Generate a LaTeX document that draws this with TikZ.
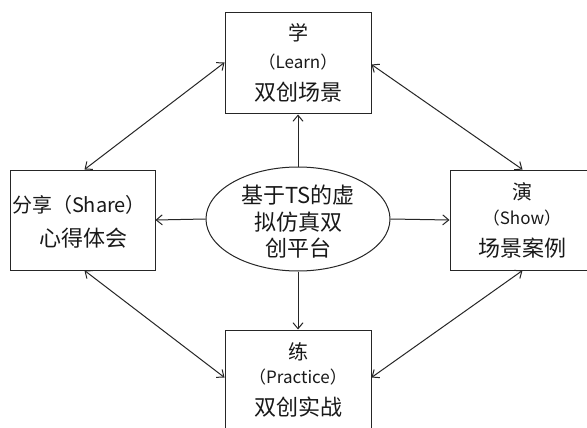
\documentclass[tikz,border=0pt]{standalone}
\usepackage{fontspec}
\setmainfont{Noto Sans CJK SC}
\usetikzlibrary{arrows.meta,shapes.geometric}
\tikzset{
  boxnode/.style={draw=black!85, line width=1pt, minimum width=146pt, minimum height=101pt, inner sep=0pt},
  lbl/.style={inner sep=0pt, anchor=center, text=black!90},
  big/.style={lbl, font=\fontsize{22}{24}\selectfont},
  mid/.style={lbl, font=\fontsize{20}{22}\selectfont},
  small/.style={lbl, font=\fontsize{17}{19}\selectfont},
  conn/.style={draw=black!85, line width=1pt, -{Straight Barb[length=6pt,width=10pt]}},
  dconn/.style={draw=black!85, line width=1pt, {Straight Barb[length=6pt,width=10pt]}-{Straight Barb[length=6pt,width=10pt]}}
}
\begin{document}
\begin{tikzpicture}[x=1pt,y=-1pt]
\useasboundingbox (0,0) rectangle (587,428);
\clip (0,0) rectangle (587,428);
\fill[white] (0,0) rectangle (587,428);
% boxes
\node[boxnode] (top) at (298,63.5) {};
\node[boxnode, minimum width=145pt, minimum height=100pt] (left) at (82.5,220) {};
\node[boxnode, minimum width=145pt, minimum height=100pt] (right) at (522.5,220) {};
\node[boxnode] (bottom) at (298,380.5) {};
\node[draw=black!85, line width=1pt, ellipse, minimum width=184pt, minimum height=104pt, inner sep=0pt] (e) at (298,219) {};
% texts
\node[mid] (t1) at (298,33) {学};
\node[small] (t2) at (298,62) {（Learn）};
\node[big] (t3) at (298,92) {双创场景};
\node[mid] (l1) at (79,205) {分享（Share）};
\node[big] (l2) at (83,238) {心得体会};
\node[mid] (r1) at (522,192) {演};
\node[small] (r2) at (522,218) {（Show）};
\node[big] (r3) at (522,248) {场景案例};
\node[mid] (b1) at (298,352) {练};
\node[small] (b2) at (298,377) {（Practice）};
\node[big] (b3) at (298,407) {双创实战};
\node[big] (e1) at (298,195) {基于TS的虚};
\node[big] (e2) at (298,222) {拟仿真双};
\node[big] (e3) at (298,248) {创平台};
% connectors from centre
\draw[conn] (e.north) -- (top.south);
\draw[conn] (e.west) -- (left.east);
\draw[conn] (e.east) -- (right.west);
\draw[conn] (e.south) -- (bottom.north);
% diagonal double arrows
\coordinate (tl) at ([yshift=-50pt]top.north west);
\coordinate (tr) at ([yshift=-52pt]top.north east);
\coordinate (bl) at ([yshift=-48pt]bottom.north west);
\coordinate (br) at ([yshift=-48pt]bottom.north east);
\coordinate (lt) at ([xshift=2pt]left.north);
\coordinate (lb) at ([xshift=2pt]left.south);
\coordinate (rt) at (right.north);
\coordinate (rb) at (right.south);
\draw[dconn] (tl) -- (lt);
\draw[dconn] (tr) -- (rt);
\draw[dconn] (lb) -- (bl);
\draw[dconn] (rb) -- (br);
\end{tikzpicture}
\end{document}
